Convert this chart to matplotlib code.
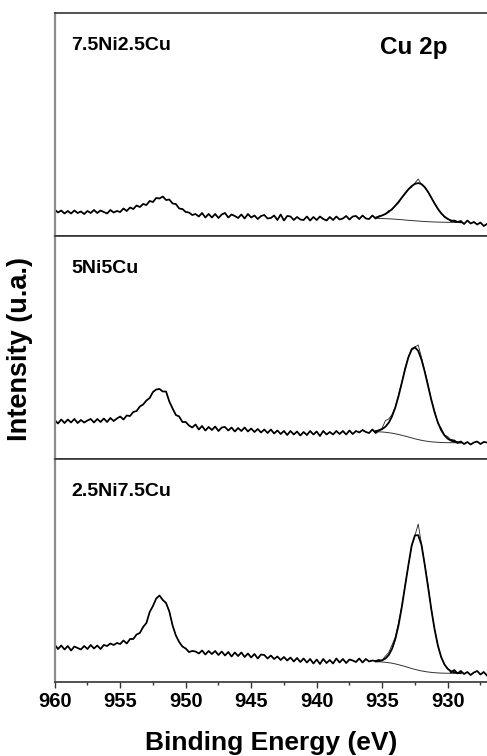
import numpy as np
import matplotlib
matplotlib.use('Agg')
import matplotlib.pyplot as plt
from matplotlib.ticker import MultipleLocator

plt.rcParams['font.family'] = ['Liberation Sans', 'DejaVu Sans']
plt.rcParams['font.weight'] = 'bold'

# binding energy grid of the spectra (eV), 960 -> 927 in 0.25 eV steps
energy = np.arange(960.0, 926.99, -0.25)
# energy grid of the fitted Cu 2p3/2 component and its Shirley background
fit_energy = np.arange(935.5, 928.99, -0.25)

samples = ['7.5Ni2.5Cu', '5Ni5Cu', '2.5Ni7.5Cu']

raw_75ni = [
    26.5, 23.5, 25.5, 22.5, 25.0, 22.5, 25.5, 23.0, 24.5, 22.0, 25.0, 23.0,
    26.0, 23.0, 25.5, 24.0, 22.5, 26.0, 23.5, 25.0, 24.0, 27.5, 25.0, 28.5,
    27.0, 30.5, 29.0, 32.0, 31.0, 35.0, 34.0, 38.0, 37.5, 39.5, 36.0, 36.5,
    32.5, 32.0, 27.5, 27.0, 24.0, 23.5, 21.0, 22.0, 19.5, 23.0, 18.5, 22.0,
    18.5, 22.0, 18.0, 21.5, 23.0, 18.5, 21.5, 20.0, 18.0, 21.5, 17.5, 22.0,
    18.5, 20.5, 17.0, 20.0, 21.0, 17.5, 18.0, 20.5, 16.0, 21.5, 15.5, 20.0,
    19.5, 16.0, 19.0, 16.5, 16.0, 19.5, 15.5, 19.0, 16.0, 19.5, 17.0, 15.5,
    19.0, 16.0, 19.5, 16.5, 17.5, 20.0, 16.5, 19.5, 20.0, 17.0, 20.5, 17.5,
    17.0, 20.5, 17.5, 19.5, 20.5, 22.0, 25.5, 26.0, 30.5, 33.0, 38.5, 42.0,
    46.5, 49.0, 53.0, 57.0, 51.5, 49.0, 44.5, 38.0, 32.5, 27.0, 22.5, 19.0,
    17.0, 15.0, 15.5, 14.0, 15.0, 12.0, 15.5, 12.5, 14.0, 11.5, 13.5, 10.0,
    12.0]
raw_5ni = [
    39.0, 35.5, 39.5, 36.0, 39.5, 36.5, 40.0, 36.0, 39.0, 36.5, 38.5, 40.0,
    36.5, 40.0, 37.0, 40.5, 37.0, 41.0, 38.0, 40.5, 42.5, 39.5, 43.5, 43.0,
    47.0, 48.0, 52.5, 54.5, 58.5, 61.0, 67.0, 69.5, 70.0, 67.5, 67.5, 57.5,
    50.5, 44.0, 42.5, 37.0, 37.0, 33.5, 31.5, 34.5, 29.5, 33.0, 28.5, 32.0,
    29.0, 32.5, 28.0, 31.5, 32.0, 28.5, 31.5, 27.5, 31.0, 28.0, 31.5, 27.5,
    30.5, 27.0, 30.0, 26.5, 29.5, 26.0, 29.5, 25.5, 28.5, 25.0, 28.0, 24.0,
    28.0, 24.5, 27.5, 23.5, 27.0, 24.0, 28.0, 24.5, 27.5, 23.0, 28.0, 24.5,
    27.0, 24.5, 28.0, 25.0, 28.0, 24.5, 28.5, 25.0, 28.0, 26.5, 29.0, 27.0,
    26.0, 29.5, 26.0, 28.5, 31.0, 38.5, 40.0, 44.5, 52.0, 64.5, 77.0, 91.5,
    102.0, 110.5, 112.0, 114.0, 101.5, 88.0, 74.5, 59.5, 48.0, 35.5, 31.0, 24.0,
    22.5, 19.0, 18.5, 16.0, 17.5, 15.0, 17.0, 14.5, 16.5, 17.5, 15.0, 17.0,
    16.5]
raw_25ni = [
    37.5, 33.0, 36.5, 32.5, 36.0, 31.5, 35.5, 34.0, 32.5, 36.0, 33.0, 37.0,
    33.5, 36.5, 33.0, 37.0, 36.0, 38.5, 37.0, 39.0, 38.0, 41.5, 38.5, 43.0,
    43.0, 47.5, 49.0, 55.0, 59.0, 70.0, 76.0, 83.5, 86.5, 82.0, 79.0, 70.5,
    56.5, 46.5, 40.0, 35.5, 33.5, 30.0, 31.0, 30.5, 28.5, 31.5, 27.5, 31.0,
    28.0, 31.0, 27.0, 30.5, 26.5, 30.0, 25.5, 29.5, 26.0, 29.5, 25.0, 28.5,
    24.5, 28.0, 23.5, 27.5, 27.0, 23.5, 26.5, 23.0, 25.5, 22.0, 25.0, 21.5,
    24.5, 20.5, 24.0, 20.0, 23.5, 19.5, 23.0, 18.5, 22.5, 18.0, 23.0, 19.0,
    22.0, 18.5, 23.5, 19.5, 23.0, 19.0, 22.5, 21.5, 20.0, 23.5, 19.5, 23.0,
    20.5, 21.5, 21.0, 22.0, 22.0, 26.0, 29.5, 37.0, 45.0, 59.5, 76.5, 97.5,
    116.5, 135.5, 146.5, 158.0, 137.5, 117.5, 97.0, 72.5, 53.5, 36.5, 25.0, 17.5,
    13.5, 9.5, 12.0, 8.5, 11.0, 8.0, 10.0, 7.0, 9.5, 11.0, 7.5, 10.0,
    6.5]

bg_75ni = [17.7, 17.6, 17.5, 17.35, 17.2, 17.0, 16.8, 16.55, 16.3, 16.0, 15.7,
           15.45, 15.2, 14.95, 14.7, 14.5, 14.3, 14.15, 14.0, 13.9, 13.8, 13.75,
           13.7, 13.65, 13.6, 13.55, 13.5]
bg_5ni = [27.3, 27.2, 27.0, 26.7, 26.3, 25.8, 25.2, 24.5, 23.7, 22.9, 22.0,
          21.1, 20.2, 19.4, 18.7, 18.1, 17.6, 17.2, 16.9, 16.7, 16.5, 16.4,
          16.35, 16.3, 16.3, 16.3, 16.3]
bg_25ni = [20.3, 20.2, 20.0, 19.7, 19.3, 18.8, 18.1, 17.3, 16.4, 15.5, 14.5,
           13.5, 12.6, 11.8, 11.1, 10.5, 10.0, 9.6, 9.3, 9.1, 8.9, 8.8,
           8.75, 8.7, 8.7, 8.7, 8.7]

peak_75ni = [0.6, 1.9, 3.1, 4.7, 7.0, 9.9, 13.5, 17.6, 22.1, 26.7, 31.0, 34.5,
             36.9, 38.0, 37.2, 34.3, 29.7, 24.2, 18.5, 13.3, 9.0, 5.7, 3.4, 1.9,
             1.0, 0.5, 0.2]
peak_5ni = [0.6, 1.4, 2.9, 5.6, 10.0, 16.8, 26.3, 38.5, 52.6, 67.0, 79.7, 88.4,
            91.5, 88.7, 80.7, 69.1, 55.5, 41.9, 29.7, 19.8, 12.4, 7.3, 4.0, 2.1,
            1.0, 0.5, 0.2]
peak_25ni = [0.3, 0.7, 1.7, 3.8, 7.7, 14.3, 24.7, 39.6, 58.8, 80.7, 102.4, 123.0,
             134.0, 135.0, 126.0, 106.5, 85.1, 63.0, 43.2, 27.4, 16.1, 8.8, 4.4,
             2.1, 0.9, 0.4, 0.1]

raws = [raw_75ni, raw_5ni, raw_25ni]
bgs = [bg_75ni, bg_5ni, bg_25ni]
peaks = [peak_75ni, peak_5ni, peak_25ni]

fig = plt.figure(figsize=(4.87, 7.56), dpi=100)
left = 54.7 / 487
w = 1 - left
h = 223 / 756
bottoms = [1 - 236 / 756, 1 - 459 / 756, 1 - 682 / 756]

axes = []
for i in range(3):
    ax = fig.add_axes([left, bottoms[i], w, h])
    raw = np.array(raws[i])
    bg = np.array(bgs[i])
    fit = bg + np.array(peaks[i])
    outside = (energy > 935.1) | (energy < 929.9)
    ax.plot(energy, raw, color='#222222', lw=0.6)
    ax.plot(energy, np.where(outside & (energy > 932), raw, np.nan), color='black', lw=1.25)
    ax.plot(energy, np.where(outside & (energy < 932), raw, np.nan), color='black', lw=1.25)
    ax.plot(fit_energy, bg, color='#333333', lw=0.7)
    ax.plot(fit_energy, fit, color='black', lw=1.3)

    ax.set_xlim(960, 927)
    ax.set_ylim(0, 223)
    ax.set_yticks([])
    ax.xaxis.set_major_locator(MultipleLocator(5))
    ax.xaxis.set_minor_locator(MultipleLocator(2.5))
    ax.spines['right'].set_visible(False)
    for s in ['top', 'bottom']:
        ax.spines[s].set_color('#333333')
        ax.spines[s].set_linewidth(1.2)
    ax.spines['left'].set_color('#8c8c8c')
    ax.spines['left'].set_linewidth(1.6)
    ax.text(0.039, 0.835, samples[i], transform=ax.transAxes, fontsize=14,
            fontweight='bold', va='baseline', ha='left')
    if i < 2:
        ax.tick_params(axis='x', which='both', bottom=False, labelbottom=False)
    else:
        ax.tick_params(axis='x', which='major', direction='out', length=4,
                       width=1, pad=3.5, labelsize=14.5, color='#333333')
        ax.tick_params(axis='x', which='minor', direction='out', length=2.5,
                       width=1, color='#333333')
        for lab in ax.get_xticklabels():
            lab.set_fontweight('bold')
    axes.append(ax)

axes[0].text(0.752, 0.818, 'Cu 2p', transform=axes[0].transAxes, fontsize=17.5,
             fontweight='bold', va='baseline', ha='left')

fig.text(0.041, 1 - 349 / 756, 'Intensity (u.a.)', rotation=90, fontsize=19.5,
         fontweight='bold', ha='center', va='center')
fig.text(left + w / 2, 1 - 743 / 756, 'Binding Energy (eV)', fontsize=19,
         fontweight='bold', ha='center', va='center')

fig.savefig('out.png', dpi=100)
